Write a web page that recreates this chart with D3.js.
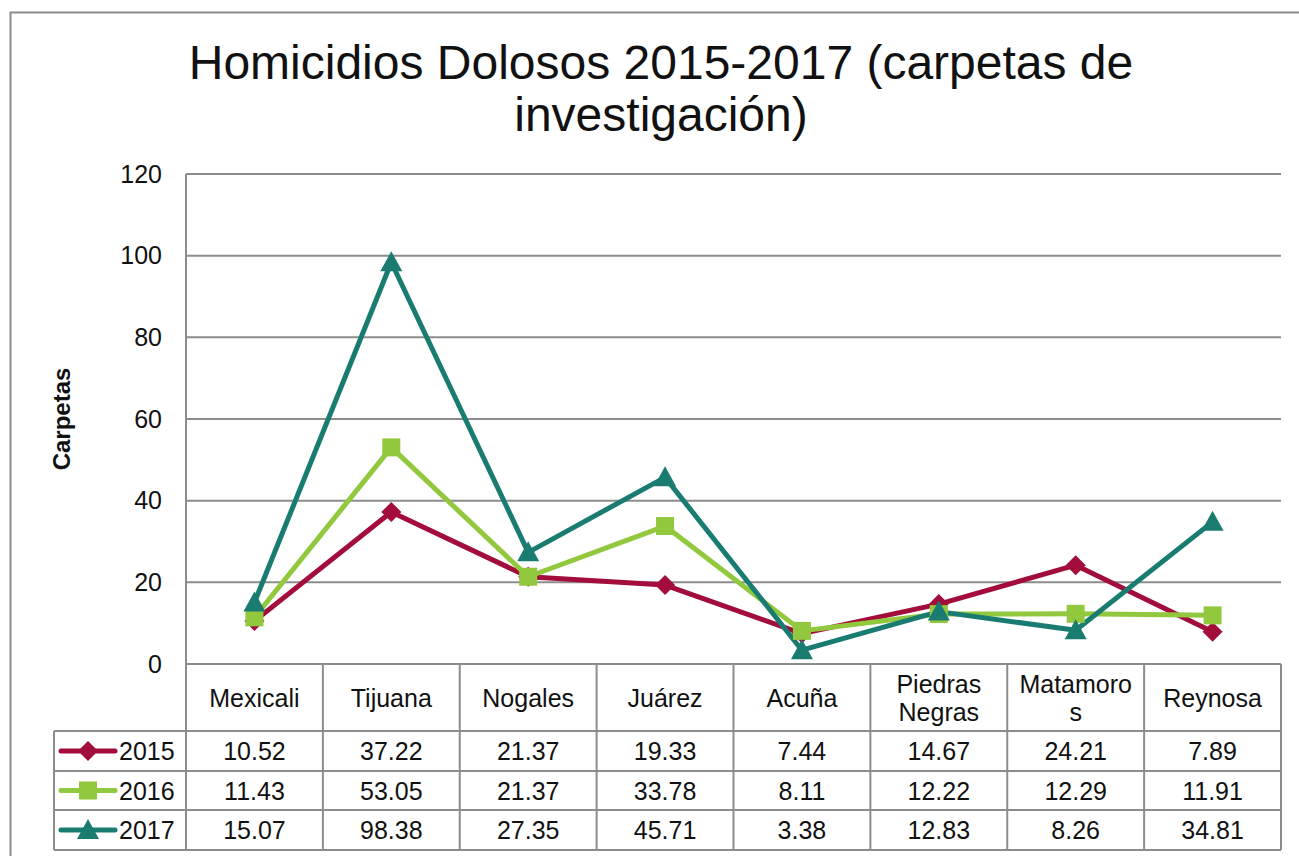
<!DOCTYPE html>
<html>
<head>
<meta charset="utf-8">
<script src="https://cdn.jsdelivr.net/npm/d3@7"></script>
<style>
  html, body { margin: 0; padding: 0; background: #fff; }
  svg { display: block; }
  text { font-family: "Liberation Sans", Arial, sans-serif; fill: #111; }
</style>
</head>
<body>
<svg id="chart" width="1299" height="856"></svg>
<script>
// ---- Data ----
const categories = [["Mexicali"], ["Tijuana"], ["Nogales"], ["Juárez"], ["Acuña"], ["Piedras", "Negras"], ["Matamoro", "s"], ["Reynosa"]];
const seriesNames = ["2015", "2016", "2017"];
const values2015 = [10.52, 37.22, 21.37, 19.33, 7.44, 14.67, 24.21, 7.89];
const values2016 = [11.43, 53.05, 21.37, 33.78, 8.11, 12.22, 12.29, 11.91];
const values2017 = [15.07, 98.38, 27.35, 45.71, 3.38, 12.83, 8.26, 34.81];
const yTicks = [0, 20, 40, 60, 80, 100, 120];
const titleLines = ["Homicidios Dolosos 2015-2017 (carpetas de", "investigación)"];
const yLabel = "Carpetas";

const series = [
  { name: seriesNames[0], values: values2015, color: "#A30D3C", marker: "diamond" },
  { name: seriesNames[1], values: values2016, color: "#92C83E", marker: "square" },
  { name: seriesNames[2], values: values2017, color: "#1A7C70", marker: "triangle" }
];

// ---- Layout ----
const svg = d3.select("#chart");
const plotL = 186, plotR = 1281, plotT = 174, plotB = 664;
const rowLines = [664, 731, 771, 810, 850];
const legendL = 54;
const gridColor = "#8c8c8c";

// outer border
svg.append("path")
  .attr("d", `M10.5,856 L10.5,12.5 L1299,12.5`)
  .attr("fill", "none").attr("stroke", gridColor).attr("stroke-width", 2);

// title
svg.append("text")
  .attr("text-anchor", "middle")
  .attr("font-size", 48)
  .selectAll("tspan").data(titleLines).join("tspan")
  .attr("x", 661).attr("y", (d, i) => 79 + i * 52)
  .text(d => d);

const x = d3.scaleBand().domain(d3.range(categories.length)).range([plotL, plotR]).padding(0);
const y = d3.scaleLinear().domain([0, 120]).range([plotB, plotT]);

// gridlines
svg.append("g").selectAll("line").data(yTicks).join("line")
  .attr("x1", plotL).attr("x2", plotR)
  .attr("y1", d => y(d)).attr("y2", d => y(d))
  .attr("stroke", gridColor).attr("stroke-width", 2);

// y axis line
svg.append("line").attr("x1", plotL).attr("x2", plotL).attr("y1", plotT).attr("y2", rowLines[1])
  .attr("stroke", gridColor).attr("stroke-width", 2);

// y axis labels
const yAxis = d3.axisLeft(y).tickValues(yTicks).tickSize(0).tickPadding(0);
const ga = svg.append("g").attr("transform", `translate(162,0)`).call(yAxis);
ga.select(".domain").remove();
ga.selectAll("text").attr("font-size", 25).attr("font-family", "Liberation Sans, Arial, sans-serif").attr("fill", "#111");

// y label
svg.append("text")
  .attr("transform", `translate(70,419) rotate(-90)`)
  .attr("text-anchor", "middle")
  .attr("font-size", 24).attr("font-weight", "bold")
  .text(yLabel);

// ---- Table ----
const tbl = svg.append("g");
// header verticals
x.domain().forEach(i => {
  tbl.append("line").attr("x1", x(i) + x.bandwidth()).attr("x2", x(i) + x.bandwidth())
    .attr("y1", rowLines[0]).attr("y2", rowLines[4]).attr("stroke", gridColor).attr("stroke-width", 2);
});
// row horizontals
rowLines.slice(1).forEach(ry => {
  tbl.append("line").attr("x1", legendL).attr("x2", plotR).attr("y1", ry).attr("y2", ry)
    .attr("stroke", gridColor).attr("stroke-width", 2);
});
// left verticals
tbl.append("line").attr("x1", legendL).attr("x2", legendL).attr("y1", rowLines[1]).attr("y2", rowLines[4])
  .attr("stroke", gridColor).attr("stroke-width", 2);
tbl.append("line").attr("x1", plotL).attr("x2", plotL).attr("y1", rowLines[1]).attr("y2", rowLines[4])
  .attr("stroke", gridColor).attr("stroke-width", 2);

// header labels
x.domain().forEach(i => {
  const lines = categories[i];
  const cy = (rowLines[0] + rowLines[1]) / 2;
  const t = tbl.append("text").attr("text-anchor", "middle").attr("font-size", 25);
  lines.forEach((ln, k) => {
    t.append("tspan").attr("x", x(i) + x.bandwidth() / 2)
      .attr("y", cy + 9 + (k - (lines.length - 1) / 2) * 28)
      .text(ln);
  });
});

// data rows
series.forEach((s, si) => {
  const cy = (rowLines[si + 1] + rowLines[si + 2]) / 2;
  s.values.forEach((v, i) => {
    tbl.append("text").attr("x", x(i) + x.bandwidth() / 2).attr("y", cy + 9)
      .attr("text-anchor", "middle").attr("font-size", 25).text(v.toFixed(2));
  });
  // legend key
  tbl.append("line").attr("x1", 61).attr("x2", 115).attr("y1", cy).attr("y2", cy)
    .attr("stroke", s.color).attr("stroke-width", 5).attr("stroke-linecap", "round");
  drawMarker(tbl, s.marker, 88, cy, s.color);
  tbl.append("text").attr("x", 119).attr("y", cy + 9).attr("font-size", 25).text(s.name);
});

function drawMarker(g, type, cx, cy, color) {
  if (type === "diamond") {
    g.append("path").attr("d", `M${cx},${cy - 10} L${cx + 10},${cy} L${cx},${cy + 10} L${cx - 10},${cy} Z`).attr("fill", color);
  } else if (type === "square") {
    g.append("rect").attr("x", cx - 9).attr("y", cy - 9).attr("width", 18).attr("height", 18).attr("fill", color);
  } else {
    g.append("path").attr("d", `M${cx},${cy - 11} L${cx + 11},${cy + 9} L${cx - 11},${cy + 9} Z`).attr("fill", color);
  }
}

// ---- Lines ----
const line = d3.line().x((d, i) => x(i) + x.bandwidth() / 2).y(d => y(d));
series.forEach(s => {
  svg.append("path").datum(s.values).attr("d", line)
    .attr("fill", "none").attr("stroke", s.color).attr("stroke-width", 5)
    .attr("stroke-linejoin", "round").attr("stroke-linecap", "round");
});
series.forEach(s => {
  const g = svg.append("g");
  s.values.forEach((v, i) => drawMarker(g, s.marker, x(i) + x.bandwidth() / 2, y(v), s.color));
});
</script>
</body>
</html>
